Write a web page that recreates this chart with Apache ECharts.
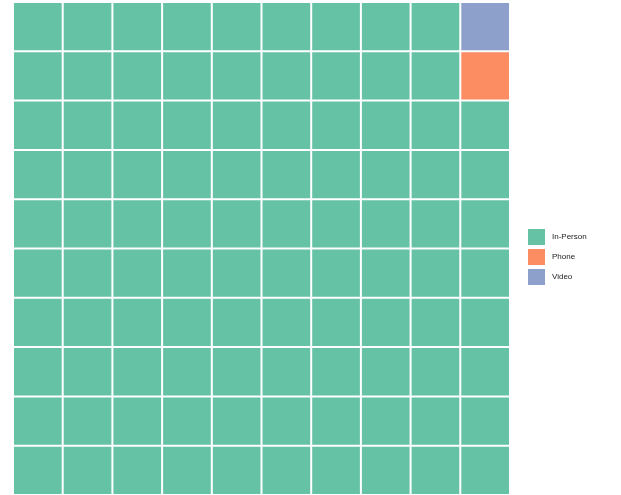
<!DOCTYPE html>
<html>
<head>
<meta charset="utf-8">
<script src="https://cdn.jsdelivr.net/npm/echarts@6/dist/echarts.min.js"></script>
<style>
html, body { margin: 0; padding: 0; background: #fff; }
#chart { width: 621px; height: 495px; }
</style>
</head>
<body>
<div id="chart"></div>
<script>
var categories = ['In-Person', 'Phone', 'Video'];
var counts = [98, 1, 1];
var colors = ['#66C2A5', '#FC8D62', '#8DA0CB'];
var nRows = 10;
var nCols = 10;

// fill cells column by column, bottom to top
var cells = categories.map(function () { return []; });
var k = 0;
counts.forEach(function (n, ci) {
    for (var j = 0; j < n; j++) {
        var col = Math.floor(k / nRows);
        var row = k % nRows;
        cells[ci].push([col, row]);
        k++;
    }
});

function renderCell(params, api) {
    var p0 = api.coord([api.value(0), api.value(1) + 1]);
    var p1 = api.coord([api.value(0) + 1, api.value(1)]);
    var gap = 1;
    return {
        type: 'rect',
        shape: {
            x: p0[0] + gap,
            y: p0[1] + gap,
            width: p1[0] - p0[0] - gap * 2,
            height: p1[1] - p0[1] - gap * 2
        },
        style: { fill: api.visual('color') }
    };
}

echarts.init(document.getElementById('chart')).setOption({
    animation: false,
    color: colors,
    grid: { left: 13, top: 2, width: 497, height: 493 },
    legend: {
        orient: 'vertical',
        left: 523,
        top: 224,
        itemWidth: 17,
        itemHeight: 16,
        itemGap: 4,
        icon: 'rect',
        textStyle: { fontSize: 8, color: '#222', fontFamily: 'Liberation Sans', padding: [0, 0, 0, 2] },
        data: categories
    },
    xAxis: { type: 'value', min: 0, max: nCols, show: false },
    yAxis: { type: 'value', min: 0, max: nRows, show: false },
    series: categories.map(function (name, i) {
        return {
            name: name,
            type: 'custom',
            renderItem: renderCell,
            data: cells[i]
        };
    })
});
</script>
</body>
</html>
